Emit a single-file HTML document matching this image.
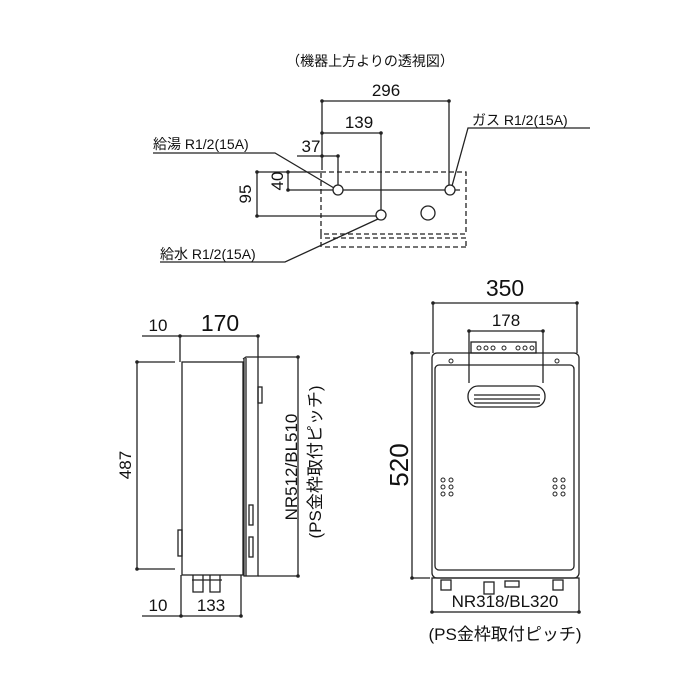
<!DOCTYPE html>
<html><head><meta charset="utf-8"><style>
html,body{margin:0;padding:0;background:#fff}
svg{display:block}
text{font-family:"Liberation Sans","Noto Sans CJK JP",sans-serif;fill:#111}
</style></head><body>
<svg width="700" height="700" viewBox="0 0 700 700" xmlns="http://www.w3.org/2000/svg">
<g stroke="#222" stroke-width="1.3" fill="none">
<line x1="322" y1="101" x2="449" y2="101"/>
<line x1="322" y1="101" x2="322" y2="170"/>
<line x1="449" y1="101" x2="449" y2="190"/>
<line x1="322" y1="133" x2="381" y2="133"/>
<line x1="381" y1="133" x2="381" y2="215"/>
<line x1="297" y1="156" x2="338" y2="156"/>
<line x1="338" y1="156" x2="338" y2="190"/>
<line x1="257" y1="172" x2="321" y2="172"/>
<line x1="257" y1="172" x2="257" y2="216"/>
<line x1="257" y1="216" x2="381" y2="216"/>
<line x1="288" y1="172" x2="288" y2="190"/>
<line x1="288" y1="190" x2="460" y2="190"/>
<rect x="321" y="172" width="145" height="62" stroke-dasharray="5,3"/>
<path d="M321 234 V250 M325 238 H466 V246 M325 247 H466" stroke-dasharray="5,3"/>
<circle cx="338" cy="190" r="5" fill="#fff"/>
<circle cx="450" cy="190" r="5" fill="#fff"/>
<circle cx="381" cy="215" r="5" fill="#fff"/>
<circle cx="428" cy="213" r="7"/>
<polyline points="153,153 275,153 334,188"/>
<polyline points="590,128 468,128 452,186"/>
<polyline points="160,262 285,262 378,219"/>
<line x1="142" y1="336" x2="258" y2="336"/>
<line x1="180" y1="336" x2="180" y2="362"/>
<line x1="258" y1="336" x2="258" y2="357"/>
<line x1="137" y1="362" x2="175" y2="362"/>
<line x1="137" y1="362" x2="137" y2="569"/>
<line x1="137" y1="569" x2="175" y2="569"/>
<rect x="182" y="362" width="61" height="213"/>
<path d="M243 359 L246 357 H258 V576 H244 V359"/>
<path d="M246 358 V576"/>
<rect x="258" y="387" width="4" height="16"/>
<rect x="249" y="505" width="4" height="20"/>
<rect x="249" y="537" width="4" height="20"/>
<rect x="178" y="530" width="4" height="26"/>
<line x1="258" y1="357" x2="298" y2="357"/>
<line x1="298" y1="357" x2="298" y2="576"/>
<line x1="258" y1="576" x2="298" y2="576"/>
<path d="M193 575 v17 h10 v-17 M210 575 v17 h10 v-17 M192 580 h30"/>
<line x1="181" y1="575" x2="181" y2="616"/>
<line x1="241" y1="575" x2="241" y2="616"/>
<line x1="142" y1="616" x2="241" y2="616"/>
<line x1="433" y1="303" x2="577" y2="303"/>
<line x1="433" y1="303" x2="433" y2="353"/>
<line x1="577" y1="303" x2="577" y2="353"/>
<line x1="469" y1="331" x2="543" y2="331"/>
<line x1="469" y1="331" x2="469" y2="383"/>
<line x1="543" y1="331" x2="543" y2="383"/>
<line x1="412" y1="353" x2="430" y2="353"/>
<line x1="412" y1="353" x2="412" y2="578"/>
<line x1="412" y1="578" x2="430" y2="578"/>
<rect x="471" y="342" width="65" height="11"/>
<rect x="432" y="353" width="147" height="225" rx="5"/>
<rect x="435" y="365" width="139" height="205" rx="4"/>
<rect x="468" y="386" width="77" height="21" rx="10"/>
<path d="M474 395 H540 M474 399 H540 M474 403 H540"/>
<rect x="432" y="578" width="147" height="34"/>
<rect x="441" y="580" width="10" height="10"/>
<rect x="484" y="582" width="10" height="12"/>
<rect x="553" y="580" width="10" height="10"/>
<rect x="505" y="581" width="14" height="6"/>
</g>
<g fill="#222">
<circle cx="322" cy="101" r="1.8"/><circle cx="449" cy="101" r="1.8"/>
<circle cx="322" cy="133" r="1.8"/><circle cx="381" cy="133" r="1.8"/>
<circle cx="322" cy="156" r="1.8"/><circle cx="338" cy="156" r="1.8"/>
<circle cx="257" cy="172" r="1.8"/><circle cx="257" cy="216" r="1.8"/>
<circle cx="288" cy="172" r="1.8"/><circle cx="288" cy="190" r="1.8"/>
<circle cx="180" cy="336" r="1.8"/><circle cx="258" cy="336" r="1.8"/>
<circle cx="137" cy="362" r="1.8"/><circle cx="137" cy="569" r="1.8"/>
<circle cx="298" cy="357" r="1.8"/><circle cx="298" cy="576" r="1.8"/>
<circle cx="181" cy="616" r="1.8"/><circle cx="241" cy="616" r="1.8"/>
<circle cx="433" cy="303" r="1.8"/><circle cx="577" cy="303" r="1.8"/>
<circle cx="469" cy="331" r="1.8"/><circle cx="543" cy="331" r="1.8"/>
<circle cx="412" cy="353" r="1.8"/><circle cx="412" cy="578" r="1.8"/>
<circle cx="432" cy="612" r="1.8"/><circle cx="579" cy="612" r="1.8"/>
</g>
<g fill="none" stroke="#222" stroke-width="1">
<circle cx="479" cy="348" r="2"/><circle cx="486" cy="348" r="2"/><circle cx="493" cy="348" r="2"/><circle cx="504" cy="348" r="2"/><circle cx="518" cy="348" r="2"/><circle cx="525" cy="348" r="2"/><circle cx="532" cy="348" r="2"/>
<circle cx="451" cy="361" r="2"/><circle cx="557" cy="361" r="2"/>
<circle cx="443" cy="480" r="2"/><circle cx="451" cy="480" r="2"/><circle cx="443" cy="487" r="2"/><circle cx="451" cy="487" r="2"/><circle cx="443" cy="494" r="2"/><circle cx="451" cy="494" r="2"/>
<circle cx="555" cy="480" r="2"/><circle cx="563" cy="480" r="2"/><circle cx="555" cy="487" r="2"/><circle cx="563" cy="487" r="2"/><circle cx="555" cy="494" r="2"/><circle cx="563" cy="494" r="2"/>
</g>
<text x="370" y="66" font-size="14" text-anchor="middle">（機器上方よりの透視図）</text>
<text x="386" y="96" font-size="17" text-anchor="middle">296</text>
<text x="359" y="128" font-size="17" text-anchor="middle">139</text>
<text x="311" y="152" font-size="17" text-anchor="middle">37</text>
<text x="153" y="149" font-size="14">給湯 R1/2(15A)</text>
<text x="472" y="125" font-size="14">ガス R1/2(15A)</text>
<text x="160" y="259" font-size="14">給水 R1/2(15A)</text>
<text transform="translate(251,194) rotate(-90)" font-size="17" text-anchor="middle">95</text>
<text transform="translate(283,181) rotate(-90)" font-size="17" text-anchor="middle">40</text>
<text x="158" y="331" font-size="17" text-anchor="middle">10</text>
<text x="220" y="331" font-size="23" text-anchor="middle">170</text>
<text transform="translate(131,465) rotate(-90)" font-size="17" text-anchor="middle">487</text>
<text transform="translate(297,467) rotate(-90)" font-size="17" text-anchor="middle">NR512/BL510</text>
<text transform="translate(321,462) rotate(-90)" font-size="17" text-anchor="middle">(PS金枠取付ピッチ)</text>
<text x="158" y="611" font-size="17" text-anchor="middle">10</text>
<text x="211" y="611" font-size="17" text-anchor="middle">133</text>
<text x="505" y="296" font-size="23" text-anchor="middle">350</text>
<text x="506" y="326" font-size="17" text-anchor="middle">178</text>
<text transform="translate(408,465) rotate(-90)" font-size="26" text-anchor="middle">520</text>
<text x="505" y="607" font-size="17" text-anchor="middle">NR318/BL320</text>
<text x="505" y="640" font-size="17" text-anchor="middle">(PS金枠取付ピッチ)</text>
</svg>
</body></html>
